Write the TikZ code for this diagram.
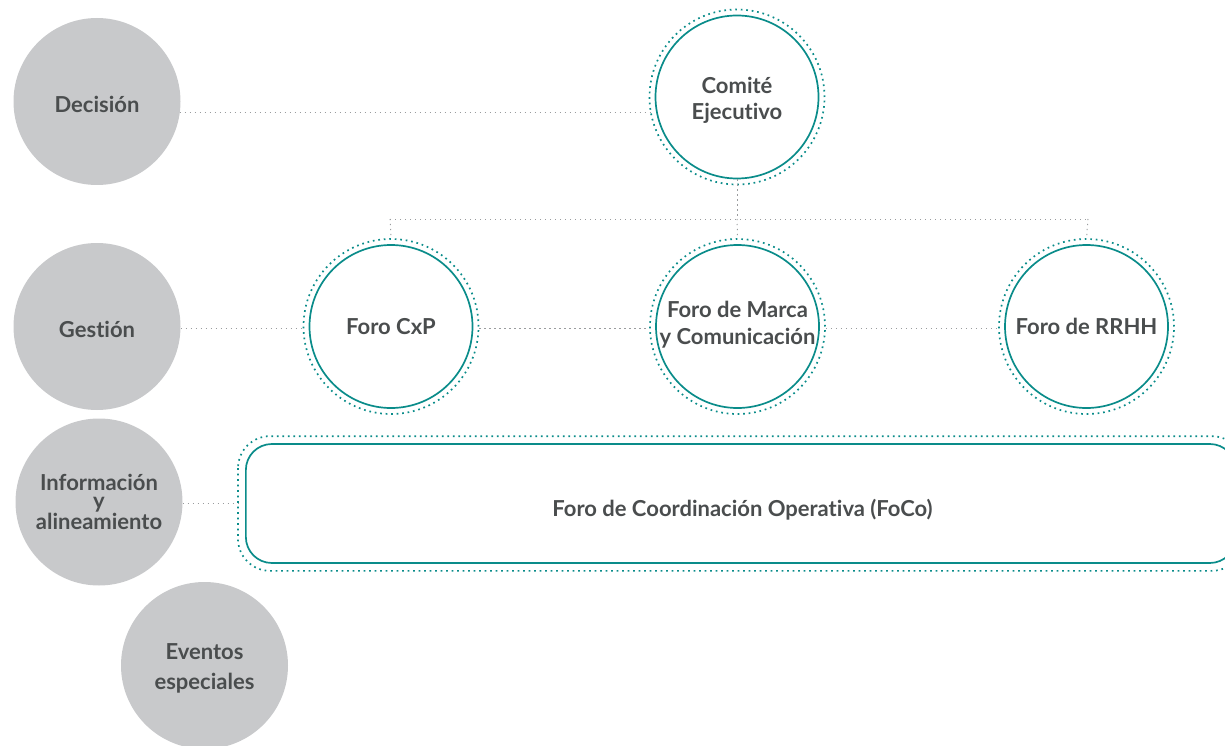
\documentclass[tikz,border=0pt]{standalone}
\usepackage{fontspec}
\setmainfont{Lato}[Ligatures={NoCommon}, RawFeature={-liga;-calt}]
\definecolor{greyc}{HTML}{C8C9CB}
\definecolor{txt}{HTML}{4A4D4E}
\definecolor{tealc}{HTML}{0A8C8A}
\definecolor{conc}{HTML}{9A9C9E}
\tikzset{
  greycirc/.style={circle, fill=greyc, minimum size=167pt, inner sep=0pt},
  tealcirc/.style={circle, draw=tealc, line width=1.7pt, fill=white, minimum size=163pt, inner sep=0pt},
  lbl/.style={text=txt, align=center, inner sep=0pt, font=\fontsize{22}{26}\selectfont\bfseries},
  tealdot/.style={draw=tealc, line width=1.7pt, dash pattern=on 1.7pt off 3.8pt},
  conn/.style={draw=conc, line width=1pt, dash pattern=on 1.2pt off 3.8pt},
}
\begin{document}
\begin{tikzpicture}[x=1pt,y=-1pt]
\useasboundingbox (0,0) rectangle (1225,746);
\clip (0,0) rectangle (1225,746);
% grey level circles
\node[greycirc, label={[lbl, yshift=-3pt]center:Decisión}] (dec) at (97,101.5) {};
\node[greycirc, label={[lbl, yshift=-2.5pt]center:Gestión}] (ges) at (97,326.5) {};
\node[greycirc, label={[lbl, yshift=-0pt, font=\fontsize{22}{17.5}\selectfont\bfseries]center:Información\\y\\alineamiento}] (inf) at (99,502) {};
\node[greycirc, label={[lbl, yshift=-3pt, font=\fontsize{22}{30}\selectfont\bfseries]center:Eventos\\especiales}] (eve) at (204.5,665.5) {};
% teal circles
\node[tealcirc, label={[lbl, yshift=-3.5pt]center:Comité\\Ejecutivo}] (com) at (737,97) {};
\node[tealcirc, label={[lbl]center:Foro CxP}] (cxp) at (391,326.5) {};
\node[tealcirc, label={[lbl, yshift=2pt, font=\fontsize{22}{27}\selectfont\bfseries]center:Foro de Marca\\y Comunicación}] (mar) at (737.5,326.5) {};
\node[tealcirc, label={[lbl]center:Foro de RRHH}] (rrh) at (1086.5,326.5) {};
\foreach \n in {com,cxp,mar,rrh}{\draw[tealdot] (\n.center) circle (87.5pt);}
% FoCo box
\node[draw=tealc, line width=1.7pt, rounded corners=26pt, minimum width=990pt, minimum height=119pt, anchor=west] (foco) at (245,503.5) {};
\node[lbl] (focolbl) at (742.5,510) {Foro de Coordinación Operativa (FoCo)};
\draw[tealdot, rounded corners=32pt] ([xshift=-7pt,yshift=7pt]foco.north west) rectangle ([xshift=7pt,yshift=-7pt]foco.south east);
% connectors
\coordinate (d1) at (179.7,113);
\coordinate (c1) at (651,113);
\draw[conn] (d1) -- (c1);
\coordinate (tl) at (390,219);
\coordinate (tr) at (1088,219);
\coordinate (tm) at (737,219);
\draw[conn] (com.south) -- (tm);
\draw[conn] (tl) -- (tr);
\draw[conn] (tl) -- ([yshift=6pt]cxp.north);
\draw[conn] (tm) -- ([yshift=6pt]mar.north);
\draw[conn] (tr) -- ([yshift=6pt]rrh.north);
\draw[conn] ([yshift=-1.5pt]ges.east) -- ([xshift=-6pt,yshift=-1.5pt]cxp.west);
\draw[conn] ([xshift=6pt,yshift=-1.5pt]cxp.east) -- ([xshift=-6pt,yshift=-1.5pt]mar.west);
\draw[conn] ([xshift=6pt,yshift=-1.5pt]mar.east) -- ([xshift=-6pt,yshift=-1.5pt]rrh.west);
\draw[conn] (inf.east |- foco.west) -- ([xshift=-7pt]foco.west);
\end{tikzpicture}
\end{document}
